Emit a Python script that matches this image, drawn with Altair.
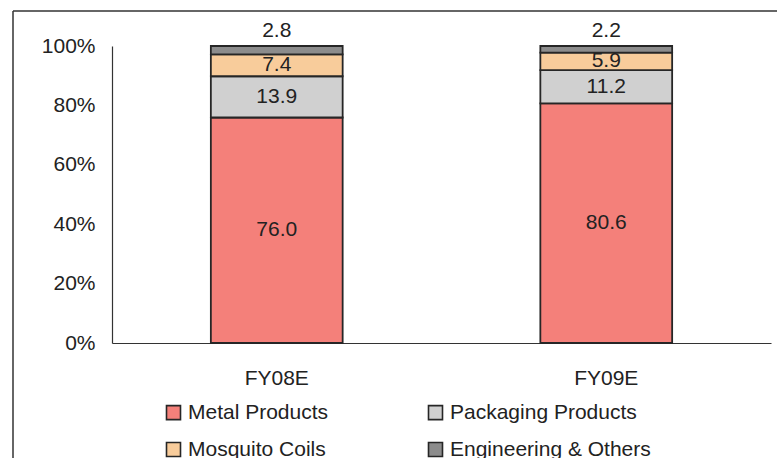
import altair as alt
import pandas as pd

periods = ["FY08E", "FY09E"]
segments = ["Metal Products", "Packaging Products", "Mosquito Coils", "Engineering & Others"]
fy08 = [76.0, 13.9, 7.4, 2.8]
fy09 = [80.6, 11.2, 5.9, 2.2]
colors = ["#F4807A", "#D0D0D0", "#F8CC9B", "#8C8C8C"]

# legend is laid out column by column: column 1 = Metal, Mosquito; column 2 = Packaging, Engineering
legend_order = [0, 2, 1, 3]
leg_domain = [segments[i] for i in legend_order]
leg_range = [colors[i] for i in legend_order]

rows = []
for p, vals in zip(periods, [fy08, fy09]):
    for i, (s, v) in enumerate(zip(segments, vals)):
        rows.append({"period": p, "segment": s, "value": v, "idx": i})
df = pd.DataFrame(rows)

FONT = "Liberation Sans"
TXT = "#222222"
FS = 21

base = alt.Chart(df).transform_stack(
    stack="value", groupby=["period"], as_=["y0", "y1"],
    sort=[alt.SortField("idx", order="ascending")], offset="normalize"
).transform_calculate(mid="(datum.y0 + datum.y1) / 2")

x_enc = alt.X("period:N", sort=periods, title=None,
              scale=alt.Scale(paddingInner=0.6, paddingOuter=0.3),
              axis=alt.Axis(labelAngle=0, labelFontSize=FS, labelFont=FONT, labelColor=TXT,
                            ticks=False, labelPadding=24, domainColor="#333333", domainWidth=1.2))

bars = base.mark_bar(stroke="#262626", strokeWidth=1.8).encode(
    x=x_enc,
    y=alt.Y("y0:Q", scale=alt.Scale(domain=[0, 1], nice=False), title=None,
            axis=alt.Axis(values=[0, 0.2, 0.4, 0.6, 0.8, 1.0], format=".0%", grid=False, ticks=False,
                          labelFontSize=FS, labelFont=FONT, labelColor=TXT, labelPadding=17,
                          domainColor="#333333", domainWidth=1.2)),
    y2="y1:Q",
    color=alt.Color("segment:N",
                    scale=alt.Scale(domain=leg_domain, range=leg_range),
                    legend=alt.Legend(title=None, orient="none", legendX=51, legendY=356,
                                      columns=2, columnPadding=96, rowPadding=15,
                                      symbolType="square", symbolSize=196,
                                      symbolStrokeColor="#262626", symbolStrokeWidth=1.6,
                                      labelFontSize=FS, labelFont=FONT, labelColor=TXT,
                                      labelOffset=4, labelLimit=300)),
)

mid_labels = base.transform_filter(alt.datum.segment != "Engineering & Others").mark_text(
    fontSize=FS, font=FONT, color=TXT, baseline="middle"
).encode(
    x=alt.X("period:N", sort=periods),
    y=alt.Y("mid:Q"),
    text=alt.Text("value:Q", format=".1f"),
)

top_labels = base.transform_filter(alt.datum.segment == "Engineering & Others").mark_text(
    fontSize=FS, font=FONT, color=TXT, baseline="middle", dy=-15
).encode(
    x=alt.X("period:N", sort=periods),
    y=alt.Y("y1:Q"),
    text=alt.Text("value:Q", format=".1f"),
)

frame_top = alt.Chart(pd.DataFrame({"a": [0]})).mark_rule(color="#333333", strokeWidth=1.5).encode(
    x=alt.value(-99), x2=alt.value(670), y=alt.value(-35)
)
frame_left = alt.Chart(pd.DataFrame({"a": [0]})).mark_rule(color="#333333", strokeWidth=1.5).encode(
    x=alt.value(-99), y=alt.value(-35), y2=alt.value(420)
)

chart = alt.layer(bars, mid_labels, top_labels, frame_top, frame_left).properties(
    width=659, height=297,
    padding={"left": 112, "top": 46, "right": 6, "bottom": 115},
    autosize=alt.AutoSizeParams(type="none"),
    background="white",
).configure_view(stroke=None)

chart.save("out.html", embed_options={"renderer": "svg", "actions": False})
